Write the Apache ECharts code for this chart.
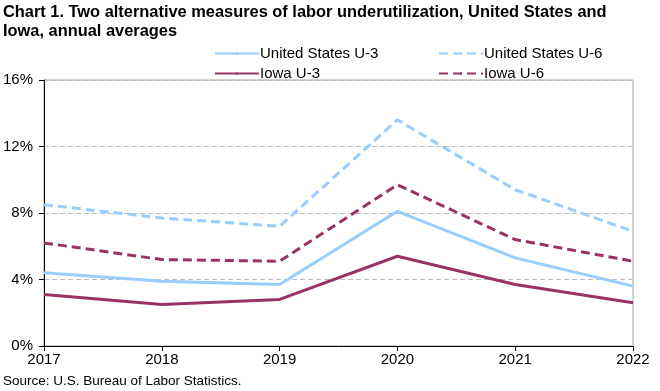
<!DOCTYPE html>
<html><head><meta charset="utf-8">
<script src="https://cdn.jsdelivr.net/npm/echarts@6/dist/echarts.min.js"></script>
<style>html,body{margin:0;padding:0;background:#fff}#c{width:660px;height:391px}</style>
</head><body><div id="c"></div>
<script>
const years = ['2017','2018','2019','2020','2021','2022'];
const usU3 = [4.4, 3.9, 3.7, 8.1, 5.3, 3.6];
const usU6 = [8.5, 7.7, 7.2, 13.6, 9.4, 6.9];
const iaU3 = [3.1, 2.5, 2.8, 5.4, 3.7, 2.6];
const iaU6 = [6.2, 5.2, 5.1, 9.7, 6.4, 5.1];
const seriesNames = ['United States U-3','United States U-6','Iowa U-3','Iowa U-6'];

const blue = '#99ccff', maroon = '#993366';
const font = 'Liberation Sans, Arial, sans-serif';
const chart = echarts.init(document.getElementById('c'));
function mk(name, data, color, dashed){
  return {name, type:'line', data, symbol:'none', smooth:false,
    lineStyle:{color, width:3, type: dashed ? [9,5] : 'solid'}, itemStyle:{color}};
}
function lg(name, left, top){
  return {data:[name], left, top, itemWidth:44, itemHeight:3, itemGap:0,
    textStyle:{fontFamily:font, fontSize:15, color:'#000', padding:[0,0,0,-4]}, padding:0};
}
chart.setOption({
  animation:false,
  title:{text:'Chart 1. Two alternative measures of labor underutilization, United States and\nIowa, annual averages',
    left:3, top:3, padding:0, textStyle:{fontFamily:font, fontSize:16.4, fontWeight:'bold', color:'#000', lineHeight:19}},
  legend:[lg(seriesNames[0],214,46), lg(seriesNames[1],438,46), lg(seriesNames[2],214,66), lg(seriesNames[3],438,66)],
  grid:{left:44, right:27, top:80, bottom:45, show:true, borderColor:'#a0a0a0', borderWidth:1},
  xAxis:{type:'category', data:years, boundaryGap:false,
    axisLine:{lineStyle:{color:'#000', width:1}},
    axisTick:{show:true, length:5, lineStyle:{color:'#000'}},
    axisLabel:{fontFamily:font, fontSize:15, color:'#000', margin:6},
    splitLine:{show:false}},
  yAxis:{type:'value', min:0, max:16, interval:4,
    axisLine:{show:true, lineStyle:{color:'#000'}},
    axisTick:{show:true, length:5, lineStyle:{color:'#000'}},
    axisLabel:{fontFamily:font, fontSize:15, color:'#000', margin:11, formatter:'{value}%'},
    splitLine:{show:true, lineStyle:{color:'#bbbbbb', type:[5,3], width:1}}},
  graphic:[{type:'text', left:3, top:374, style:{text:'Source: U.S. Bureau of Labor Statistics.', font:'13.5px '+font, fill:'#000'}}],
  series:[mk(seriesNames[0],usU3,blue,false), mk(seriesNames[1],usU6,blue,true), mk(seriesNames[2],iaU3,maroon,false), mk(seriesNames[3],iaU6,maroon,true)]
});
</script></body></html>
